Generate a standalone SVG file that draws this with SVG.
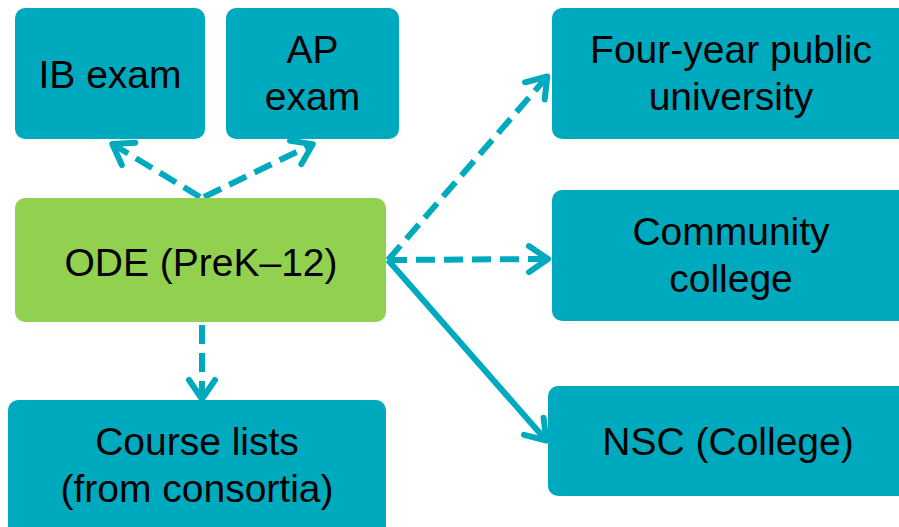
<svg xmlns="http://www.w3.org/2000/svg" width="899" height="527" viewBox="0 0 899 527">
<style>
  .box { fill: #00AABE; }
  .green { fill: #92D050; }
  .t { font-family: "Liberation Sans", Arial, sans-serif; font-size: 39px; fill: #000; text-anchor: middle; }
  .c { fill: none; stroke: #00AABE; stroke-width: 6; }
  .d { stroke-dasharray: 19 9; }
</style>
<defs>
  <marker id="ah" markerUnits="userSpaceOnUse" markerWidth="50" markerHeight="50" viewBox="-25 -25 50 50" refX="-2" refY="0" orient="auto" overflow="visible">
    <path d="M-19,-13 L0,0 L-19,13" fill="none" stroke="#00AABE" stroke-width="6" stroke-linecap="round" stroke-linejoin="round" stroke-dasharray="none"/>
  </marker>
</defs>
<rect width="899" height="527" fill="#fff"/>
<g id="connectors">
  <path class="c d" d="M200,197 L114,145" marker-end="url(#ah)"/>
  <path class="c d" d="M204,197 L311,145" marker-end="url(#ah)"/>
  <path class="c d" d="M388,260 L546,78" marker-end="url(#ah)"/>
  <path class="c d" d="M388,260 L546,259" marker-end="url(#ah)"/>
  <path class="c" d="M388,260 L545,439" marker-end="url(#ah)"/>
  <path class="c d" d="M202,325 L202,397" marker-end="url(#ah)"/>
</g>
<g id="ib">
  <rect class="box" x="15" y="8" width="190" height="131" rx="10"/>
  <text class="t" x="110" y="88">IB exam</text>
</g>
<g id="ap">
  <rect class="box" x="226" y="8" width="173" height="131" rx="10"/>
  <text class="t" x="312.5" y="63">AP</text>
  <text class="t" x="312.5" y="110">exam</text>
</g>
<g id="ode">
  <rect class="green" x="15" y="198" width="371" height="124" rx="10"/>
  <text class="t" x="201" y="276">ODE (PreK–12)</text>
</g>
<g id="course">
  <rect class="box" x="8" y="400" width="378" height="140" rx="10"/>
  <text class="t" x="197" y="455">Course lists</text>
  <text class="t" x="197" y="502">(from consortia)</text>
</g>
<g id="fouryear">
  <rect class="box" x="552" y="8" width="370" height="131" rx="10"/>
  <text class="t" x="731" y="63">Four-year public</text>
  <text class="t" x="731" y="110">university</text>
</g>
<g id="community">
  <rect class="box" x="552" y="190" width="370" height="131" rx="10"/>
  <text class="t" x="731" y="245">Community</text>
  <text class="t" x="731" y="292">college</text>
</g>
<g id="nsc">
  <rect class="box" x="548" y="386" width="370" height="110" rx="10"/>
  <text class="t" x="728" y="455">NSC (College)</text>
</g>
</svg>
